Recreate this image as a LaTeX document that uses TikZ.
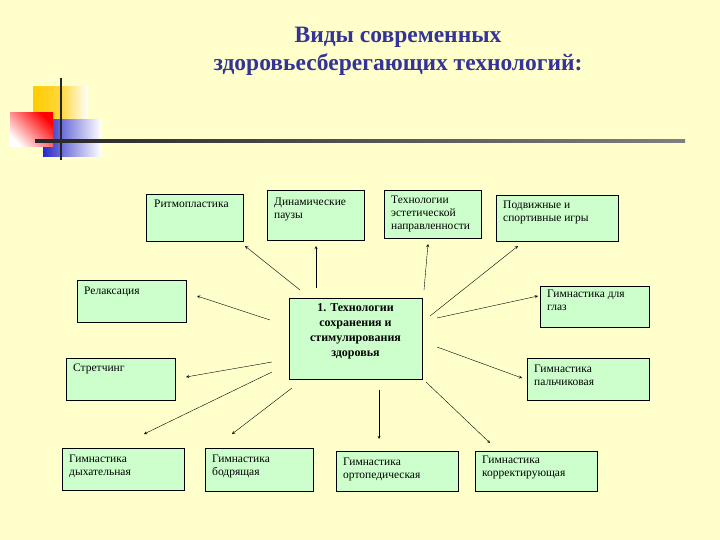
\documentclass[tikz,border=0pt]{standalone}
\usepackage{fontspec}
\setmainfont{Liberation Serif}
\begin{document}
\begin{tikzpicture}[x=1pt,y=-1pt,
 box/.style={draw=black,fill={rgb,255:red,204;green,255;blue,204}},
 lbl/.style={anchor=north west,font=\fontsize{11.5}{13}\selectfont,align=left,inner sep=0pt},
 arr/.style={-stealth,thin}]
\fill[fill={rgb,255:red,255;green,255;blue,204}] (0,0) rectangle (720,540);
\useasboundingbox (0,0) rectangle (720,540);
% title
\node[font=\bfseries\fontsize{23.5}{28}\selectfont,text={rgb,255:red,51;green,51;blue,153},align=center] (title) at (398,51) {Виды современных\\здоровьесберегающих технологий:};
% logo
\shade[left color={rgb,255:red,255;green,204;blue,0},right color=white,middle color={rgb,255:red,255;green,215;blue,60}] (33,87) rectangle (88,120);
\shade[left color={rgb,255:red,40;green,40;blue,200},right color=white] (43,120) rectangle (101,157);
\shade[top color=red,bottom color=white,shading angle=-45] (10,113) rectangle (53,147);
\draw[line width=2.5pt,black!85] (61,78) -- (61,160);
\shade[left color=black!85,right color=black!50] (35,140) rectangle (685,142.5);
% boxes
\draw[box] (146,194) rectangle (243,241); \node[lbl] (b1) at (154,200) {Ритмопластика};
\draw[box] (267,190) rectangle (364,240); \node[lbl] (b2) at (274,198) {Динамические\\паузы};
\draw[box] (384,190) rectangle (481,238); \node[lbl] (b3) at (391,196) {Технологии\\эстетической\\направленности};
\draw[box] (496,195) rectangle (618,241); \node[lbl] (b4) at (503,201) {Подвижные и\\спортивные игры};
\draw[box] (77,280) rectangle (186,322); \node[lbl] (b5) at (84,287) {Релаксация};
\draw[box] (540,286) rectangle (649,327); \node[lbl] (b6) at (547,290) {Гимнастика для\\глаз};
\draw[box] (66,358) rectangle (175,400); \node[lbl] (b7) at (73,364) {Стретчинг};
\draw[box] (527,358) rectangle (649,400); \node[lbl] (b8) at (534,365) {Гимнастика\\пальчиковая};
\draw[box] (62,448) rectangle (184,490); \node[lbl] (b9) at (69,455) {Гимнастика\\дыхательная};
\draw[box] (205,448) rectangle (313,491); \node[lbl] (b10) at (212,455) {Гимнастика\\бодрящая};
\draw[box] (336,451) rectangle (458,491); \node[lbl] (b11) at (343,458) {Гимнастика\\ортопедическая};
\draw[box] (475,451) rectangle (597,491); \node[lbl] (b12) at (482,456) {Гимнастика\\корректирующая};
\draw[box] (289,298) rectangle (422,379);
\node[font=\bfseries\fontsize{12}{15}\selectfont,align=center] (c) at (355.5,331) {1. Технологии\\сохранения и\\стимулирования\\здоровья};
% arrows
\foreach \a/\b/\c/\d in {300/290/245/246, 316/288/316/246, 424/290/428/244, 430/316/518/246,
 270/320/197/296, 437/318/538/296, 272/362/186/377, 437/347/522/378,
 272/372/144/434, 292/388/232/434, 379/390/379/439, 426/382/490/443}
 {\coordinate (s) at (\a,\b); \coordinate (e) at (\c,\d); \draw[arr] (s) -- (e);}
\end{tikzpicture}
\end{document}
